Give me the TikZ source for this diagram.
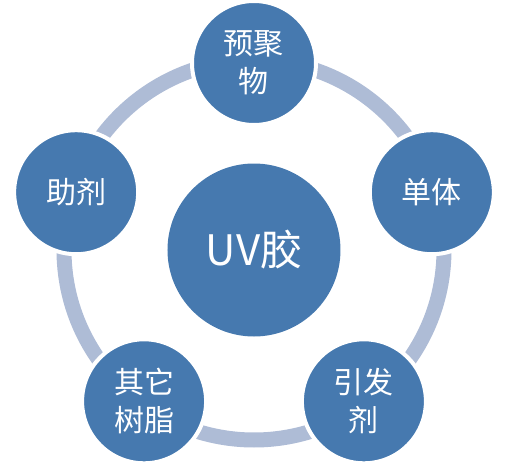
\documentclass[tikz,border=0pt]{standalone}
\usepackage{fontspec}
\newfontfamily\cjk{Noto Sans CJK SC}
\definecolor{uvblue}{RGB}{70,121,175}
\definecolor{uvring}{RGB}{174,188,214}
\tikzset{
	ring/.style={uvring, line width=15pt},
	part/.style={circle, minimum size=124pt, inner sep=0pt, fill=uvblue, draw=white, line width=4pt, text=white, align=center, font=\cjk\fontsize{30}{38}\selectfont},
	core/.style={circle, minimum size=173pt, inner sep=0pt, fill=uvblue, text=white, font=\cjk\fontsize{42}{48}\selectfont}
}

\begin{document}
\begin{tikzpicture}[x=1pt, y=1pt]
\useasboundingbox (-254,-214) rectangle (253,250);
\coordinate (o) at (0,0);
\draw [ring] (o) circle (190);
\node [core] (glue) at (o) {UV胶};
\node [part] (prepoly) at (90:187) {预聚\\物};
\node [part] (monomer) at (18:187) {单体};
\node [part] (initiator) at (-54:187) {引发\\剂};
\node [part] (resin) at (-126:187) {其它\\树脂};
\node [part] (additive) at (162:187) {助剂};
\end{tikzpicture}
\end{document}
